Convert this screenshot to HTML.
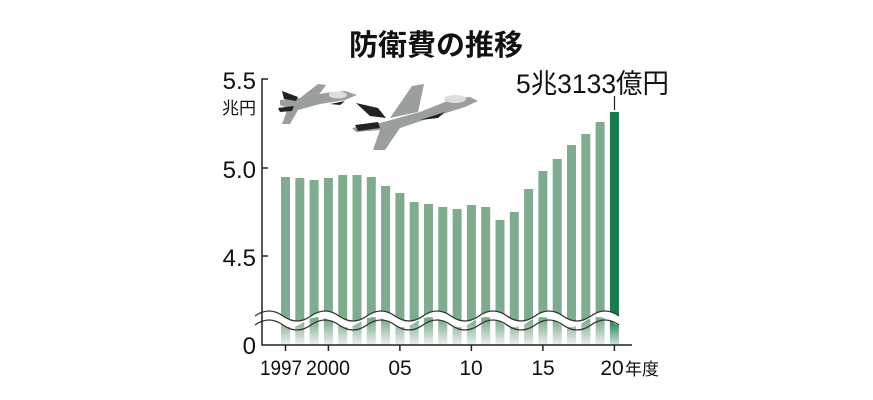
<!DOCTYPE html>
<html><head><meta charset="utf-8"><style>
html,body{margin:0;padding:0;background:#fff;}
svg{display:block;}
text{font-family:"Liberation Sans","Noto Sans CJK JP",sans-serif;fill:#111;}
</style></head><body>
<svg width="873" height="400" viewBox="0 0 873 400" xmlns="http://www.w3.org/2000/svg">
<defs>
<linearGradient id="fade" x1="0" y1="0" x2="0" y2="1">
<stop offset="0" stop-color="#7fac8e"/><stop offset="1" stop-color="#7fac8e" stop-opacity="0.15"/>
</linearGradient>
<linearGradient id="fade2" x1="0" y1="0" x2="0" y2="1">
<stop offset="0" stop-color="#1a7a4a"/><stop offset="1" stop-color="#1a7a4a" stop-opacity="0.2"/>
</linearGradient>
</defs>
<text x="436" y="55" font-size="29" font-weight="bold" text-anchor="middle">防衛費の推移</text>

<!-- bars -->
<g fill="#7fac8e">
<rect x="281" y="177" width="9" height="143"/>
<rect x="295.3" y="178" width="9" height="142"/>
<rect x="309.6" y="180" width="9" height="140"/>
<rect x="323.9" y="178" width="9" height="142"/>
<rect x="338.2" y="175" width="9" height="145"/>
<rect x="352.5" y="175" width="9" height="145"/>
<rect x="366.8" y="177" width="9" height="143"/>
<rect x="381.1" y="186" width="9" height="134"/>
<rect x="395.4" y="193" width="9" height="127"/>
<rect x="409.7" y="202" width="9" height="118"/>
<rect x="424" y="204" width="9" height="116"/>
<rect x="438.3" y="207" width="9" height="113"/>
<rect x="452.6" y="209" width="9" height="111"/>
<rect x="466.9" y="205" width="9" height="115"/>
<rect x="481.2" y="207" width="9" height="113"/>
<rect x="495.5" y="220" width="9" height="100"/>
<rect x="509.8" y="212" width="9" height="108"/>
<rect x="524.1" y="189" width="9" height="131"/>
<rect x="538.4" y="171" width="9" height="149"/>
<rect x="552.7" y="159" width="9" height="161"/>
<rect x="567" y="145" width="9" height="175"/>
<rect x="581.3" y="134" width="9" height="186"/>
<rect x="595.6" y="122" width="9" height="198"/>
</g>
<rect x="609.9" y="112" width="9" height="208" fill="#1a7a4a"/>
<g fill="url(#fade)">
<rect x="281" y="320" width="9" height="25"/><rect x="295.3" y="320" width="9" height="25"/><rect x="309.6" y="320" width="9" height="25"/><rect x="323.9" y="320" width="9" height="25"/><rect x="338.2" y="320" width="9" height="25"/><rect x="352.5" y="320" width="9" height="25"/><rect x="366.8" y="320" width="9" height="25"/><rect x="381.1" y="320" width="9" height="25"/><rect x="395.4" y="320" width="9" height="25"/><rect x="409.7" y="320" width="9" height="25"/><rect x="424" y="320" width="9" height="25"/><rect x="438.3" y="320" width="9" height="25"/><rect x="452.6" y="320" width="9" height="25"/><rect x="466.9" y="320" width="9" height="25"/><rect x="481.2" y="320" width="9" height="25"/><rect x="495.5" y="320" width="9" height="25"/><rect x="509.8" y="320" width="9" height="25"/><rect x="524.1" y="320" width="9" height="25"/><rect x="538.4" y="320" width="9" height="25"/><rect x="552.7" y="320" width="9" height="25"/><rect x="567" y="320" width="9" height="25"/><rect x="581.3" y="320" width="9" height="25"/><rect x="595.6" y="320" width="9" height="25"/>
</g>
<rect x="609.9" y="320" width="9" height="25" fill="url(#fade2)"/>

<!-- planes -->
<g fill="#9a9e9e">
<polygon points="280,100 300,98 325,93 345,91 357,95 345,100 320,104 298,110 290,124 282,124 288,108 280,105"/>
<polygon points="300,98 318,84 326,85 318,96"/>
<polygon points="352,128 380,123 420,112 455,98 470,97 478,101 465,107 430,118 400,128 385,150 373,150 380,130 356,132"/>
<polygon points="390,118 412,86 424,84 418,112"/>
</g>
<g fill="#222">
<polygon points="282,91 298,97 296,101 284,99"/>
<polygon points="278,108 294,106 292,111 280,112"/>
<polygon points="356,103 378,108 386,118 370,116"/>
<polygon points="355,125 378,122 380,128 358,131"/>
<polygon points="330,104 345,101 340,105"/>
<polygon points="420,120 445,112 438,118"/>
</g>
<ellipse cx="338" cy="95" rx="9" ry="3.5" fill="#ddd"/>
<ellipse cx="455" cy="99" rx="11" ry="4" fill="#ddd"/>

<!-- wave break -->
<path d="M255,316 q14,-10 28,0 t28,0 t28,0 t28,0 t28,0 t28,0 t28,0 t28,0 t28,0 t28,0 t28,0 t28,0 t28,0 t28,0 L640,312 L640,322 q-14,10 -28,0 t-28,0 t-28,0 t-28,0 t-28,0 t-28,0 t-28,0 t-28,0 t-28,0 t-28,0 t-28,0 t-28,0 t-28,0 t-28,0 Z" fill="#fff"/>
<path d="M255,316 q14,-10 28,0 t28,0 t28,0 t28,0 t28,0 t28,0 t28,0 t28,0 t28,0 t28,0 t28,0 t28,0 t28,0" fill="none" stroke="#333" stroke-width="1.3"/>
<path d="M255,325 q14,-10 28,0 t28,0 t28,0 t28,0 t28,0 t28,0 t28,0 t28,0 t28,0 t28,0 t28,0 t28,0 t28,0" fill="none" stroke="#333" stroke-width="1.3"/>

<!-- axes -->
<g stroke="#222" stroke-width="1.5" fill="none">
<path d="M268,79 L262,79 L262,345 L632,345"/>
<path d="M262,168 L268,168 M262,256 L268,256"/>
<path d="M285.5,345 V351 M328.4,345 V351 M399.9,345 V351 M471.4,345 V351 M542.9,345 V351 M614.4,345 V351"/>
<path d="M614.5,96 V110" stroke-width="1.2"/>
</g>
<g font-size="24" text-anchor="end">
<text x="256" y="89">5.5</text>
<text x="256" y="178">5.0</text>
<text x="256" y="266">4.5</text>
<text x="256" y="354">0</text>
</g>
<text x="256" y="114" font-size="17" text-anchor="end">兆円</text>
<g font-size="21" text-anchor="middle">
<text x="281" y="375" textLength="42" lengthAdjust="spacingAndGlyphs">1997</text>
<text x="328" y="375" textLength="44" lengthAdjust="spacingAndGlyphs">2000</text>
<text x="400" y="375">05</text>
<text x="471" y="375">10</text>
<text x="543" y="375">15</text>
<text x="612" y="375">20</text>
</g>
<text x="625" y="375" font-size="17">年度</text>
<text x="516" y="93" font-size="27" textLength="153" lengthAdjust="spacingAndGlyphs">5兆3133億円</text>
</svg>
</body></html>
